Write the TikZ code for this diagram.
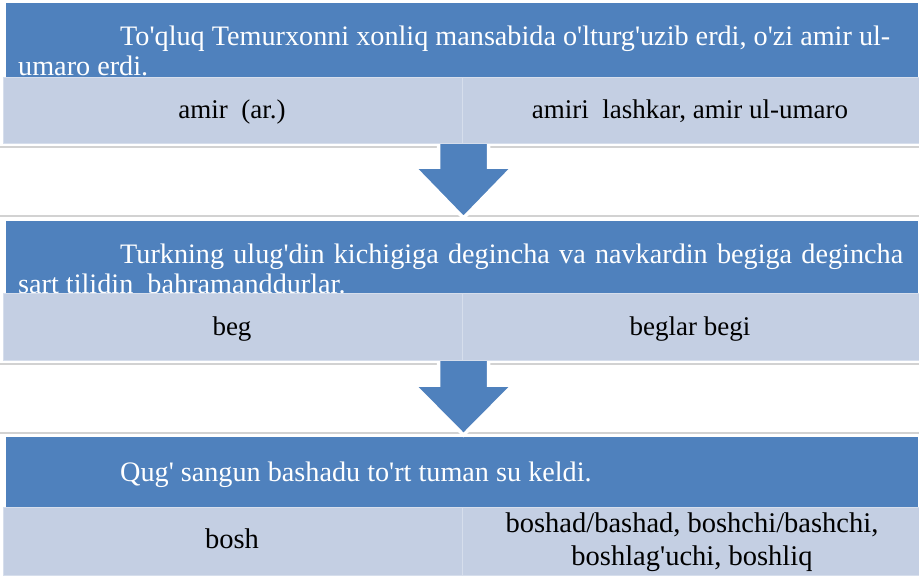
\documentclass[tikz,border=0pt]{standalone}
\usepackage{fontspec}
\setmainfont{Liberation Serif}[Ligatures=TeXOff]
\definecolor{hblue}{RGB}{79,129,189}
\definecolor{lrow}{RGB}{196,207,227}
\definecolor{lrowedge}{RGB}{214,222,236}
\definecolor{sepgray}{RGB}{210,210,210}
\begin{document}
\begin{tikzpicture}[x=1pt,y=-1pt,
  hdr/.style={fill=hblue,draw=none,anchor=north west,inner sep=0pt,minimum width=912pt},
  cellbox/.style={fill=lrow,draw=lrowedge,line width=1.2pt,anchor=north west,inner sep=0pt},
  htext/.style={anchor=base west,inner sep=0pt,text=white,align=left,font=\fontsize{28.2}{30}\selectfont},
  ctext/.style={inner sep=0pt,text=black,align=center,font=\fontsize{27}{33}\selectfont},
  ctextb/.style={ctext,font=\fontsize{28.5}{33}\selectfont},
  sepline/.style={draw=sepgray,line width=1.2pt},
  barrow/.style={fill=hblue,draw=white,line width=3.5pt,line join=miter}]
\useasboundingbox[fill=white] (0,0) rectangle (919,579);
% headers
\node[hdr,minimum height=74pt] (h1) at (6,3) {};
\node[hdr,minimum height=72pt] (h2) at (6,221) {};
\node[hdr,minimum height=70pt] (h3) at (6,437) {};
% header texts (base anchor = last line)
\node[htext] (t1) at (18,75) {\hspace*{102pt}To'qluq Temurxonni xonliq mansabida o'lturg'uzib erdi, o'zi amir ul-\\umaro erdi.};
\node[htext] (t2) at (18,293) {\hspace*{102pt}\makebox[783pt][s]{Turkning ulug'din kichigiga degincha va navkardin begiga degincha}\\sart tilidin\ \ bahramanddurlar.};
\node[htext] (t3) at (18,481) {\hspace*{102pt}Qug' sangun bashadu to'rt tuman su keldi.};
% separator lines
\draw[sepline] (0,147) -- (919,147);
\draw[sepline] (0,216) -- (919,216);
\draw[sepline] (0,364) -- (919,364);
\draw[sepline] (0,433) -- (919,433);
% arrows
\filldraw[barrow] (438.5,141) -- (488.5,141) -- (488.5,167) -- (513,167) -- (463.5,218) -- (414,167) -- (438.5,167) -- cycle;
\filldraw[barrow] (438.5,358) -- (488.5,358) -- (488.5,385) -- (513,385) -- (463.5,435) -- (414,385) -- (438.5,385) -- cycle;
% light rows
\node[cellbox,minimum width=459pt,minimum height=66pt] (c1a) at (3,77) {};
\node[cellbox,minimum width=457pt,minimum height=66pt] (c1b) at (462,77) {};
\node[cellbox,minimum width=459pt,minimum height=67pt] (c2a) at (3,293) {};
\node[cellbox,minimum width=457pt,minimum height=67pt] (c2b) at (462,293) {};
\node[cellbox,minimum width=459pt,minimum height=68pt] (c3a) at (3,507) {};
\node[cellbox,minimum width=457pt,minimum height=68pt] (c3b) at (462,507) {};
% cell texts
\node[ctext,anchor=base] (a1) at (232,118) {amir\ \ (ar.)};
\node[ctext,anchor=base] (b1) at (690,118) {amiri\ \ lashkar, amir ul-umaro};
\node[ctext,anchor=base] (a2) at (232,335) {beg};
\node[ctext,anchor=base] (b2) at (690,335) {beglar begi};
\node[ctextb,anchor=base] (a3) at (232,548) {bosh};
\node[ctextb,anchor=base] (b3) at (692,565) {boshad/bashad, boshchi/bashchi,\\boshlag'uchi, boshliq};
\end{tikzpicture}
\end{document}
